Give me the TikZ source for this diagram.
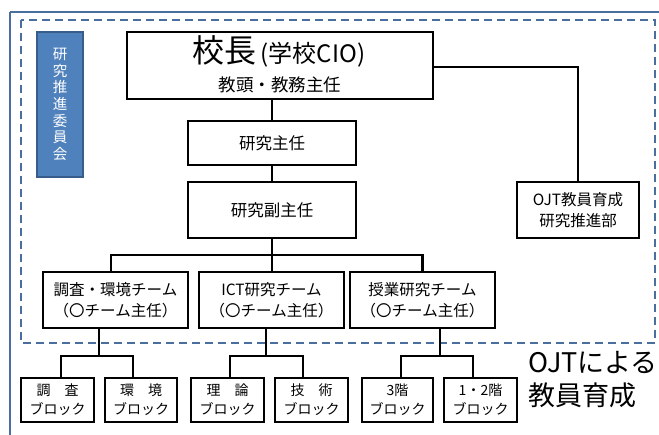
\documentclass[tikz,border=0pt]{standalone}
\usepackage{fontspec}
\setmainfont{Noto Sans CJK JP}
\newfontfamily\jp{Noto Sans CJK JP}
\definecolor{frameblue}{HTML}{4A6E9E}
\definecolor{boxblue}{HTML}{4F81BD}
\definecolor{boxedge}{HTML}{385D8A}
\begin{document}
\begin{tikzpicture}[x=1pt,y=-1pt,
  box/.style={draw=black,line width=1.5pt,fill=white,align=center,inner sep=0pt,font=\jp},
  conn/.style={draw=black,line width=2.4pt},
  fs/.style={font=\jp\fontsize{#1}{#1}\selectfont}]
\useasboundingbox (0,0) rectangle (659,435);
\begin{scope}
\clip (0,0) rectangle (659,435);
\draw[frameblue,line width=1.5pt] (10,12) -- (670,12);
\draw[frameblue,line width=1.5pt] (10,12) -- (10,445);
\end{scope}
\draw[frameblue,line width=1.3pt,dash pattern=on 8pt off 5pt] (21,20) rectangle (655,343);
% committee
\node[draw=boxedge,line width=1.2pt,fill=boxblue,minimum width=46pt,minimum height=145pt,inner sep=0pt,align=center,text=white,font=\jp\fontsize{14.5}{16.7}\selectfont] (iinkai) at (60,104.5) {研\\究\\推\\進\\委\\員\\会};
% principal
\node[box,minimum width=306pt,minimum height=67pt] (kocho) at (280,65.5) {};
\node[inner sep=0pt,anchor=base] (kochoA) at (279,63) {\jp\fontsize{32}{34}\selectfont 校長\fontsize{24}{26}\selectfont\,(学校CIO)};
\node[inner sep=0pt,anchor=base] (kochoB) at (280,92) {\jp\fontsize{17.5}{20}\selectfont 教頭・教務主任};
\node[box,minimum width=168pt,minimum height=44pt,fs=16.5] (shunin) at (272,143) {研究主任};
\node[box,minimum width=168pt,minimum height=56pt,fs=16.5] (fuku) at (272,210) {研究副主任};
\node[box,minimum width=122pt,minimum height=56pt,align=center,font=\jp\fontsize{15.5}{21}\selectfont] (ojt) at (578,210) {OJT教員育成\\研究推進部};
% teams
\tikzset{team/.style={box,minimum width=145pt,minimum height=56pt,font=\jp\fontsize{15.5}{21}\selectfont}}
\node[team] (t1) at (115.5,300) {調査・環境チーム\\（〇チーム主任）};
\node[team] (t2) at (271.5,300) {ICT研究チーム\\（〇チーム主任）};
\node[team] (t3) at (422.5,300) {授業研究チーム\\（〇チーム主任）};
% blocks
\tikzset{blk/.style={box,minimum width=73pt,minimum height=44pt,font=\jp\fontsize{14}{19}\selectfont}}
\node[blk] (b1) at (57.5,400) {調　査\\ブロック};
\node[blk,minimum width=72pt] (b2) at (141,400) {環　境\\ブロック};
\node[blk] (b3) at (227.5,400) {理　論\\ブロック};
\node[blk] (b4) at (311.5,400) {技　術\\ブロック};
\node[blk,minimum width=71pt] (b5) at (397.5,400) {3階\\ブロック};
\node[blk] (b6) at (480.5,400) {1・2階\\ブロック};
% caption
\node[inner sep=0pt,anchor=north west,align=left,font=\jp\fontsize{27}{33}\selectfont] (cap) at (528,351) {OJTによる\\教員育成};
% connectors
\coordinate (k1) at (kocho.south -| shunin.north);
\draw[conn] (k1) -- (shunin.north);
\draw[conn] (shunin.south) -- (fuku.north);
\coordinate (bar) at (fuku.south |- 0,255);
\coordinate (t1top) at (111,272);
\draw[conn] (fuku.south) -- (bar);
\draw[conn] (t1top) |- (bar) -| (t3.north);
\draw[conn] (bar) -- (t2.north -| bar);
\coordinate (ke) at (kocho.east |- 0,67);
\draw[conn] (ke) -| (ojt.north);
% team to blocks
\coordinate (d1) at (99,328);
\coordinate (e1) at (99,356);
\draw[conn] (d1) -- (e1);
\draw[conn] (b1.north -| 61,0) |- (e1) -| (b2.north -| 133,0);
\coordinate (d2) at (266,328);
\coordinate (e2) at (266,356);
\draw[conn] (d2) -- (e2);
\draw[conn] (b3.north -| 230,0) |- (e2) -| (b4.north -| 303,0);
\coordinate (d3) at (440,328);
\coordinate (e3) at (440,356);
\draw[conn] (d3) -- (e3);
\draw[conn] (b5.north -| 401,0) |- (e3) -| (b6.north -| 473,0);
\end{tikzpicture}
\end{document}
